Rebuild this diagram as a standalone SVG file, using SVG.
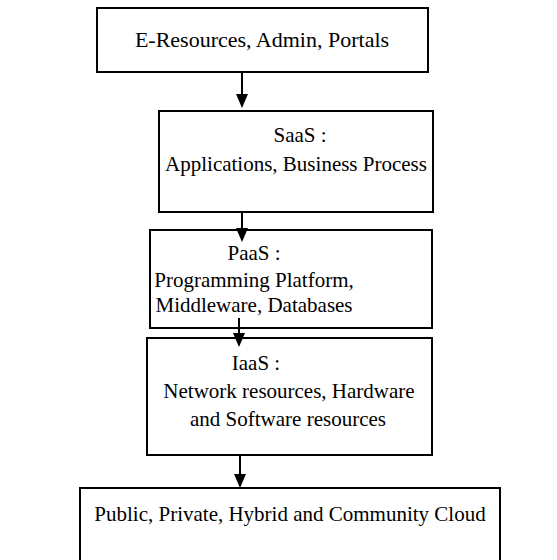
<svg xmlns="http://www.w3.org/2000/svg" width="557" height="560" viewBox="0 0 557 560">
<style>
.box{fill:#fff;stroke:#000;stroke-width:2}
.t{font-family:"Liberation Serif","Times New Roman",serif;font-size:21px;fill:#000;text-anchor:middle}
.c{stroke:#000;stroke-width:2;fill:none}
.h{fill:#000}
</style>
<rect width="557" height="560" fill="#fff"/>
<g id="n1"><rect class="box" x="97" y="8" width="331" height="64"/><text class="t" x="262" y="47" style="font-size:22px">E-Resources, Admin, Portals</text></g>
<g id="n2"><rect class="box" x="159" y="111" width="274" height="101"/><text class="t" x="300" y="142">SaaS :</text><text class="t" x="296" y="171">Applications, Business Process</text></g>
<g id="n3"><rect class="box" x="150" y="230" width="282" height="98"/><text class="t" x="254" y="260">PaaS :</text><text class="t" x="254" y="287">Programming Platform,</text><text class="t" x="254" y="312">Middleware, Databases</text></g>
<g id="n4"><rect class="box" x="147" y="338" width="285" height="117"/><text class="t" x="256" y="370">IaaS :</text><text class="t" x="289" y="398">Network resources, Hardware</text><text class="t" x="288" y="426">and Software resources</text></g>
<g id="n5"><rect class="box" x="80" y="488" width="420" height="80"/><text class="t" x="290" y="521">Public, Private, Hybrid and Community Cloud</text></g>
<g id="connectors">
<path class="c" d="M242,72 V100"/>
<path class="h" d="M236,94 L248,94 L242,108 Z"/>
<path class="c" d="M242,212 V232"/>
<path class="h" d="M236,228 L248,228 L242,242 Z"/>
<path class="c" d="M239,318 V338"/>
<path class="h" d="M233,333 L245,333 L239,347 Z"/>
<path class="c" d="M240,455 V478"/>
<path class="h" d="M234,474 L246,474 L240,488 Z"/>
</g>
</svg>
